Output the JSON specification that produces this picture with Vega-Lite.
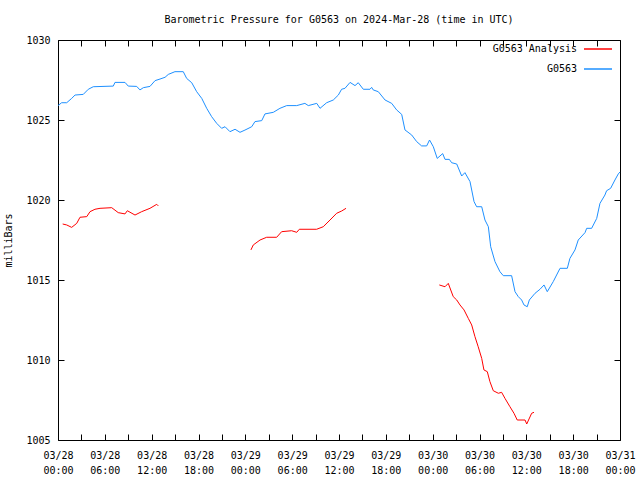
{
"$schema": "https://vega.github.io/schema/vega-lite/v6.json",
"width": 562, "height": 400,
"autosize": {"type": "none"},
"padding": {"left": 58, "top": 40, "right": 20, "bottom": 40},
"title": {"text": "Barometric Pressure for G0563 on 2024-Mar-28 (time in UTC)", "font": "DejaVu Sans Mono", "fontSize": 10, "fontWeight": "normal", "color": "black", "offset": 9},
"config": {"view": {"stroke": "black", "strokeWidth": 1}},
"data": {"values": [
{"t":"2024-03-28T00:00:00Z","p":1025.9,"s":"G0563","g":"b"},
{"t":"2024-03-28T00:28:00Z","p":1026.08,"s":"G0563","g":"b"},
{"t":"2024-03-28T01:07:00Z","p":1026.08,"s":"G0563","g":"b"},
{"t":"2024-03-28T01:45:00Z","p":1026.35,"s":"G0563","g":"b"},
{"t":"2024-03-28T02:11:00Z","p":1026.56,"s":"G0563","g":"b"},
{"t":"2024-03-28T03:14:00Z","p":1026.6,"s":"G0563","g":"b"},
{"t":"2024-03-28T03:53:00Z","p":1026.92,"s":"G0563","g":"b"},
{"t":"2024-03-28T04:31:00Z","p":1027.08,"s":"G0563","g":"b"},
{"t":"2024-03-28T07:05:00Z","p":1027.12,"s":"G0563","g":"b"},
{"t":"2024-03-28T07:18:00Z","p":1027.35,"s":"G0563","g":"b"},
{"t":"2024-03-28T08:35:00Z","p":1027.35,"s":"G0563","g":"b"},
{"t":"2024-03-28T09:00:00Z","p":1027.12,"s":"G0563","g":"b"},
{"t":"2024-03-28T10:05:00Z","p":1027.1,"s":"G0563","g":"b"},
{"t":"2024-03-28T10:30:00Z","p":1026.88,"s":"G0563","g":"b"},
{"t":"2024-03-28T10:56:00Z","p":1027.02,"s":"G0563","g":"b"},
{"t":"2024-03-28T11:47:00Z","p":1027.1,"s":"G0563","g":"b"},
{"t":"2024-03-28T12:26:00Z","p":1027.46,"s":"G0563","g":"b"},
{"t":"2024-03-28T13:04:00Z","p":1027.56,"s":"G0563","g":"b"},
{"t":"2024-03-28T13:43:00Z","p":1027.67,"s":"G0563","g":"b"},
{"t":"2024-03-28T14:08:00Z","p":1027.85,"s":"G0563","g":"b"},
{"t":"2024-03-28T14:59:00Z","p":1028.02,"s":"G0563","g":"b"},
{"t":"2024-03-28T16:03:00Z","p":1028.02,"s":"G0563","g":"b"},
{"t":"2024-03-28T16:29:00Z","p":1027.6,"s":"G0563","g":"b"},
{"t":"2024-03-28T17:08:00Z","p":1027.33,"s":"G0563","g":"b"},
{"t":"2024-03-28T17:46:00Z","p":1026.77,"s":"G0563","g":"b"},
{"t":"2024-03-28T18:25:00Z","p":1026.35,"s":"G0563","g":"b"},
{"t":"2024-03-28T19:03:00Z","p":1025.73,"s":"G0563","g":"b"},
{"t":"2024-03-28T19:41:00Z","p":1025.21,"s":"G0563","g":"b"},
{"t":"2024-03-28T20:20:00Z","p":1024.79,"s":"G0563","g":"b"},
{"t":"2024-03-28T20:58:00Z","p":1024.48,"s":"G0563","g":"b"},
{"t":"2024-03-28T21:24:00Z","p":1024.58,"s":"G0563","g":"b"},
{"t":"2024-03-28T22:02:00Z","p":1024.27,"s":"G0563","g":"b"},
{"t":"2024-03-28T22:41:00Z","p":1024.42,"s":"G0563","g":"b"},
{"t":"2024-03-28T23:19:00Z","p":1024.23,"s":"G0563","g":"b"},
{"t":"2024-03-28T23:57:00Z","p":1024.37,"s":"G0563","g":"b"},
{"t":"2024-03-29T00:49:00Z","p":1024.58,"s":"G0563","g":"b"},
{"t":"2024-03-29T01:14:00Z","p":1024.9,"s":"G0563","g":"b"},
{"t":"2024-03-29T02:06:00Z","p":1024.96,"s":"G0563","g":"b"},
{"t":"2024-03-29T02:31:00Z","p":1025.38,"s":"G0563","g":"b"},
{"t":"2024-03-29T03:35:00Z","p":1025.48,"s":"G0563","g":"b"},
{"t":"2024-03-29T04:26:00Z","p":1025.73,"s":"G0563","g":"b"},
{"t":"2024-03-29T05:18:00Z","p":1025.9,"s":"G0563","g":"b"},
{"t":"2024-03-29T06:35:00Z","p":1025.9,"s":"G0563","g":"b"},
{"t":"2024-03-29T07:38:00Z","p":1026.04,"s":"G0563","g":"b"},
{"t":"2024-03-29T08:04:00Z","p":1025.9,"s":"G0563","g":"b"},
{"t":"2024-03-29T09:09:00Z","p":1026.04,"s":"G0563","g":"b"},
{"t":"2024-03-29T09:34:00Z","p":1025.73,"s":"G0563","g":"b"},
{"t":"2024-03-29T10:25:00Z","p":1026.08,"s":"G0563","g":"b"},
{"t":"2024-03-29T11:16:00Z","p":1026.25,"s":"G0563","g":"b"},
{"t":"2024-03-29T11:55:00Z","p":1026.56,"s":"G0563","g":"b"},
{"t":"2024-03-29T12:20:00Z","p":1026.92,"s":"G0563","g":"b"},
{"t":"2024-03-29T12:46:00Z","p":1026.98,"s":"G0563","g":"b"},
{"t":"2024-03-29T13:25:00Z","p":1027.35,"s":"G0563","g":"b"},
{"t":"2024-03-29T14:03:00Z","p":1027.15,"s":"G0563","g":"b"},
{"t":"2024-03-29T14:28:00Z","p":1027.33,"s":"G0563","g":"b"},
{"t":"2024-03-29T15:07:00Z","p":1026.92,"s":"G0563","g":"b"},
{"t":"2024-03-29T15:58:00Z","p":1026.92,"s":"G0563","g":"b"},
{"t":"2024-03-29T16:11:00Z","p":1027.04,"s":"G0563","g":"b"},
{"t":"2024-03-29T16:23:00Z","p":1026.88,"s":"G0563","g":"b"},
{"t":"2024-03-29T17:02:00Z","p":1026.77,"s":"G0563","g":"b"},
{"t":"2024-03-29T17:54:00Z","p":1026.25,"s":"G0563","g":"b"},
{"t":"2024-03-29T18:45:00Z","p":1026.04,"s":"G0563","g":"b"},
{"t":"2024-03-29T19:23:00Z","p":1025.63,"s":"G0563","g":"b"},
{"t":"2024-03-29T20:02:00Z","p":1025.35,"s":"G0563","g":"b"},
{"t":"2024-03-29T20:27:00Z","p":1024.38,"s":"G0563","g":"b"},
{"t":"2024-03-29T21:19:00Z","p":1024.06,"s":"G0563","g":"b"},
{"t":"2024-03-29T21:57:00Z","p":1023.65,"s":"G0563","g":"b"},
{"t":"2024-03-29T22:35:00Z","p":1023.38,"s":"G0563","g":"b"},
{"t":"2024-03-29T23:14:00Z","p":1023.38,"s":"G0563","g":"b"},
{"t":"2024-03-29T23:36:00Z","p":1023.75,"s":"G0563","g":"b"},
{"t":"2024-03-30T00:05:00Z","p":1023.33,"s":"G0563","g":"b"},
{"t":"2024-03-30T00:35:00Z","p":1022.6,"s":"G0563","g":"b"},
{"t":"2024-03-30T01:17:00Z","p":1022.9,"s":"G0563","g":"b"},
{"t":"2024-03-30T01:35:00Z","p":1022.54,"s":"G0563","g":"b"},
{"t":"2024-03-30T02:08:00Z","p":1022.54,"s":"G0563","g":"b"},
{"t":"2024-03-30T02:26:00Z","p":1022.33,"s":"G0563","g":"b"},
{"t":"2024-03-30T03:05:00Z","p":1022.25,"s":"G0563","g":"b"},
{"t":"2024-03-30T03:43:00Z","p":1021.5,"s":"G0563","g":"b"},
{"t":"2024-03-30T04:08:00Z","p":1021.71,"s":"G0563","g":"b"},
{"t":"2024-03-30T04:47:00Z","p":1021.15,"s":"G0563","g":"b"},
{"t":"2024-03-30T05:18:00Z","p":1019.9,"s":"G0563","g":"b"},
{"t":"2024-03-30T05:38:00Z","p":1019.58,"s":"G0563","g":"b"},
{"t":"2024-03-30T06:17:00Z","p":1019.58,"s":"G0563","g":"b"},
{"t":"2024-03-30T06:42:00Z","p":1018.75,"s":"G0563","g":"b"},
{"t":"2024-03-30T07:08:00Z","p":1018.33,"s":"G0563","g":"b"},
{"t":"2024-03-30T07:26:00Z","p":1017.08,"s":"G0563","g":"b"},
{"t":"2024-03-30T07:59:00Z","p":1016.15,"s":"G0563","g":"b"},
{"t":"2024-03-30T08:37:00Z","p":1015.52,"s":"G0563","g":"b"},
{"t":"2024-03-30T09:03:00Z","p":1015.27,"s":"G0563","g":"b"},
{"t":"2024-03-30T10:07:00Z","p":1015.27,"s":"G0563","g":"b"},
{"t":"2024-03-30T10:33:00Z","p":1014.27,"s":"G0563","g":"b"},
{"t":"2024-03-30T10:58:00Z","p":1013.96,"s":"G0563","g":"b"},
{"t":"2024-03-30T11:24:00Z","p":1013.75,"s":"G0563","g":"b"},
{"t":"2024-03-30T11:42:00Z","p":1013.44,"s":"G0563","g":"b"},
{"t":"2024-03-30T12:07:00Z","p":1013.33,"s":"G0563","g":"b"},
{"t":"2024-03-30T12:23:00Z","p":1013.75,"s":"G0563","g":"b"},
{"t":"2024-03-30T13:07:00Z","p":1014.17,"s":"G0563","g":"b"},
{"t":"2024-03-30T13:45:00Z","p":1014.42,"s":"G0563","g":"b"},
{"t":"2024-03-30T14:16:00Z","p":1014.69,"s":"G0563","g":"b"},
{"t":"2024-03-30T14:41:00Z","p":1014.27,"s":"G0563","g":"b"},
{"t":"2024-03-30T15:27:00Z","p":1014.9,"s":"G0563","g":"b"},
{"t":"2024-03-30T16:19:00Z","p":1015.73,"s":"G0563","g":"b"},
{"t":"2024-03-30T17:15:00Z","p":1015.73,"s":"G0563","g":"b"},
{"t":"2024-03-30T17:35:00Z","p":1016.35,"s":"G0563","g":"b"},
{"t":"2024-03-30T18:14:00Z","p":1016.88,"s":"G0563","g":"b"},
{"t":"2024-03-30T18:39:00Z","p":1017.5,"s":"G0563","g":"b"},
{"t":"2024-03-30T19:31:00Z","p":1017.96,"s":"G0563","g":"b"},
{"t":"2024-03-30T19:44:00Z","p":1018.23,"s":"G0563","g":"b"},
{"t":"2024-03-30T20:22:00Z","p":1018.23,"s":"G0563","g":"b"},
{"t":"2024-03-30T21:01:00Z","p":1018.85,"s":"G0563","g":"b"},
{"t":"2024-03-30T21:26:00Z","p":1019.79,"s":"G0563","g":"b"},
{"t":"2024-03-30T22:04:00Z","p":1020.31,"s":"G0563","g":"b"},
{"t":"2024-03-30T22:17:00Z","p":1020.58,"s":"G0563","g":"b"},
{"t":"2024-03-30T22:48:00Z","p":1020.73,"s":"G0563","g":"b"},
{"t":"2024-03-30T23:21:00Z","p":1021.25,"s":"G0563","g":"b"},
{"t":"2024-03-30T23:47:00Z","p":1021.63,"s":"G0563","g":"b"},
{"t":"2024-03-31T00:00:00Z","p":1021.75,"s":"G0563","g":"b"},
{"t":"2024-03-28T00:36:00Z","p":1018.5,"s":"G0563 Analysis","g":"r1"},
{"t":"2024-03-28T01:07:00Z","p":1018.44,"s":"G0563 Analysis","g":"r1"},
{"t":"2024-03-28T01:45:00Z","p":1018.29,"s":"G0563 Analysis","g":"r1"},
{"t":"2024-03-28T02:24:00Z","p":1018.54,"s":"G0563 Analysis","g":"r1"},
{"t":"2024-03-28T02:49:00Z","p":1018.92,"s":"G0563 Analysis","g":"r1"},
{"t":"2024-03-28T03:41:00Z","p":1018.96,"s":"G0563 Analysis","g":"r1"},
{"t":"2024-03-28T04:06:00Z","p":1019.27,"s":"G0563 Analysis","g":"r1"},
{"t":"2024-03-28T04:44:00Z","p":1019.42,"s":"G0563 Analysis","g":"r1"},
{"t":"2024-03-28T05:23:00Z","p":1019.48,"s":"G0563 Analysis","g":"r1"},
{"t":"2024-03-28T06:53:00Z","p":1019.52,"s":"G0563 Analysis","g":"r1"},
{"t":"2024-03-28T07:43:00Z","p":1019.21,"s":"G0563 Analysis","g":"r1"},
{"t":"2024-03-28T08:35:00Z","p":1019.13,"s":"G0563 Analysis","g":"r1"},
{"t":"2024-03-28T08:53:00Z","p":1019.33,"s":"G0563 Analysis","g":"r1"},
{"t":"2024-03-28T09:52:00Z","p":1019.06,"s":"G0563 Analysis","g":"r1"},
{"t":"2024-03-28T10:43:00Z","p":1019.27,"s":"G0563 Analysis","g":"r1"},
{"t":"2024-03-28T11:47:00Z","p":1019.48,"s":"G0563 Analysis","g":"r1"},
{"t":"2024-03-28T12:39:00Z","p":1019.73,"s":"G0563 Analysis","g":"r1"},
{"t":"2024-03-28T12:51:00Z","p":1019.63,"s":"G0563 Analysis","g":"r1"},
{"t":"2024-03-29T00:43:00Z","p":1016.88,"s":"G0563 Analysis","g":"r2"},
{"t":"2024-03-29T01:01:00Z","p":1017.19,"s":"G0563 Analysis","g":"r2"},
{"t":"2024-03-29T01:53:00Z","p":1017.5,"s":"G0563 Analysis","g":"r2"},
{"t":"2024-03-29T02:44:00Z","p":1017.67,"s":"G0563 Analysis","g":"r2"},
{"t":"2024-03-29T04:01:00Z","p":1017.67,"s":"G0563 Analysis","g":"r2"},
{"t":"2024-03-29T04:39:00Z","p":1018.02,"s":"G0563 Analysis","g":"r2"},
{"t":"2024-03-29T05:56:00Z","p":1018.08,"s":"G0563 Analysis","g":"r2"},
{"t":"2024-03-29T06:35:00Z","p":1017.98,"s":"G0563 Analysis","g":"r2"},
{"t":"2024-03-29T06:55:00Z","p":1018.17,"s":"G0563 Analysis","g":"r2"},
{"t":"2024-03-29T09:08:00Z","p":1018.17,"s":"G0563 Analysis","g":"r2"},
{"t":"2024-03-29T09:59:00Z","p":1018.33,"s":"G0563 Analysis","g":"r2"},
{"t":"2024-03-29T10:51:00Z","p":1018.75,"s":"G0563 Analysis","g":"r2"},
{"t":"2024-03-29T11:42:00Z","p":1019.17,"s":"G0563 Analysis","g":"r2"},
{"t":"2024-03-29T12:20:00Z","p":1019.31,"s":"G0563 Analysis","g":"r2"},
{"t":"2024-03-29T12:54:00Z","p":1019.48,"s":"G0563 Analysis","g":"r2"},
{"t":"2024-03-30T00:51:00Z","p":1014.69,"s":"G0563 Analysis","g":"r3"},
{"t":"2024-03-30T01:35:00Z","p":1014.58,"s":"G0563 Analysis","g":"r3"},
{"t":"2024-03-30T02:00:00Z","p":1014.79,"s":"G0563 Analysis","g":"r3"},
{"t":"2024-03-30T02:38:00Z","p":1013.96,"s":"G0563 Analysis","g":"r3"},
{"t":"2024-03-30T03:05:00Z","p":1013.75,"s":"G0563 Analysis","g":"r3"},
{"t":"2024-03-30T03:30:00Z","p":1013.44,"s":"G0563 Analysis","g":"r3"},
{"t":"2024-03-30T04:01:00Z","p":1013.13,"s":"G0563 Analysis","g":"r3"},
{"t":"2024-03-30T04:34:00Z","p":1012.6,"s":"G0563 Analysis","g":"r3"},
{"t":"2024-03-30T05:00:00Z","p":1012.19,"s":"G0563 Analysis","g":"r3"},
{"t":"2024-03-30T05:25:00Z","p":1011.46,"s":"G0563 Analysis","g":"r3"},
{"t":"2024-03-30T05:50:00Z","p":1010.83,"s":"G0563 Analysis","g":"r3"},
{"t":"2024-03-30T06:17:00Z","p":1010.1,"s":"G0563 Analysis","g":"r3"},
{"t":"2024-03-30T06:34:00Z","p":1009.38,"s":"G0563 Analysis","g":"r3"},
{"t":"2024-03-30T07:00:00Z","p":1009.27,"s":"G0563 Analysis","g":"r3"},
{"t":"2024-03-30T07:20:00Z","p":1008.65,"s":"G0563 Analysis","g":"r3"},
{"t":"2024-03-30T07:46:00Z","p":1008.08,"s":"G0563 Analysis","g":"r3"},
{"t":"2024-03-30T08:25:00Z","p":1007.92,"s":"G0563 Analysis","g":"r3"},
{"t":"2024-03-30T08:50:00Z","p":1007.98,"s":"G0563 Analysis","g":"r3"},
{"t":"2024-03-30T09:16:00Z","p":1007.6,"s":"G0563 Analysis","g":"r3"},
{"t":"2024-03-30T09:54:00Z","p":1007.08,"s":"G0563 Analysis","g":"r3"},
{"t":"2024-03-30T10:25:00Z","p":1006.67,"s":"G0563 Analysis","g":"r3"},
{"t":"2024-03-30T10:50:00Z","p":1006.25,"s":"G0563 Analysis","g":"r3"},
{"t":"2024-03-30T11:50:00Z","p":1006.25,"s":"G0563 Analysis","g":"r3"},
{"t":"2024-03-30T12:03:00Z","p":1006.0,"s":"G0563 Analysis","g":"r3"},
{"t":"2024-03-30T12:41:00Z","p":1006.67,"s":"G0563 Analysis","g":"r3"},
{"t":"2024-03-30T12:59:00Z","p":1006.73,"s":"G0563 Analysis","g":"r3"}
]},
"layer": [
 {"mark": {"type": "line", "strokeWidth": 1},
  "encoding": {
   "x": {"field": "t", "type": "temporal",
     "scale": {"type": "utc", "nice": false, "domain": [1711584000000, 1711843200000]},
     "axis": {"orient": "bottom", "title": null, "grid": false, "domain": false, "tickColor": "black", "labelFlush": false, "labelOverlap": false,
       "values": [1711584000000, 1711594800000, 1711605600000, 1711616400000, 1711627200000, 1711638000000, 1711648800000, 1711659600000, 1711670400000, 1711681200000, 1711692000000, 1711702800000, 1711713600000, 1711724400000, 1711735200000, 1711746000000, 1711756800000, 1711767600000, 1711778400000, 1711789200000, 1711800000000, 1711810800000, 1711821600000, 1711832400000, 1711843200000],
       "labelExpr": "utchours(datum.value) % 6 == 0 ? [utcFormat(datum.value, '%m/%d'), utcFormat(datum.value, '%H:%M')] : ''",
       "labelFont": "DejaVu Sans Mono", "labelFontSize": 10, "labelColor": "black", "labelLineHeight": 15,
       "tickSize": -6, "labelPadding": 16,
       "encode": {"ticks": {"update": {"y2": {"signal": "utchours(datum.value) % 6 == 0 ? -6 : -3"}}}}}},
   "y": {"field": "p", "type": "quantitative",
     "scale": {"domain": [1005, 1030], "nice": false, "zero": false},
     "axis": {"orient": "left", "values": [1005, 1010, 1015, 1020, 1025, 1030], "format": "d", "grid": false, "domain": false, "tickColor": "black", "tickSize": -6, "labelPadding": 14,
       "labelFont": "DejaVu Sans Mono", "labelFontSize": 10, "labelColor": "black",
       "title": "milliBars", "titleFont": "DejaVu Sans Mono", "titleFontSize": 10, "titleFontWeight": "normal", "titleColor": "black", "titlePadding": 12}},
   "color": {"field": "s", "type": "nominal",
     "scale": {"domain": ["G0563 Analysis", "G0563"], "range": ["#ff0000", "#1e90ff"]},
     "legend": {"orient": "none", "legendX": 525, "legendY": -6, "title": null, "symbolType": "stroke", "symbolSize": 784, "labelAlign": "right", "labelOffset": -36, "labelFont": "DejaVu Sans Mono", "labelFontSize": 10, "labelColor": "black", "padding": 0, "rowPadding": -4}},
   "detail": {"field": "g"}
  }},
 {"mark": {"type": "line", "strokeOpacity": 0},
  "encoding": {
   "x": {"field": "t", "type": "temporal",
     "axis": {"orient": "top", "title": null, "labels": false, "grid": false, "domain": false, "tickColor": "black", "tickSize": -6,
       "values": [1711584000000, 1711594800000, 1711605600000, 1711616400000, 1711627200000, 1711638000000, 1711648800000, 1711659600000, 1711670400000, 1711681200000, 1711692000000, 1711702800000, 1711713600000, 1711724400000, 1711735200000, 1711746000000, 1711756800000, 1711767600000, 1711778400000, 1711789200000, 1711800000000, 1711810800000, 1711821600000, 1711832400000, 1711843200000],
       "encode": {"ticks": {"update": {"y2": {"signal": "utchours(datum.value) % 6 == 0 ? 6 : 3"}}}}}},
   "y": {"field": "p", "type": "quantitative",
     "axis": {"orient": "right", "title": null, "labels": false, "grid": false, "domain": false, "tickColor": "black", "tickSize": -6, "values": [1005, 1010, 1015, 1020, 1025, 1030]}},
   "detail": {"field": "g"}
  }}
],
"resolve": {"axis": {"x": "independent", "y": "independent"}}
}
